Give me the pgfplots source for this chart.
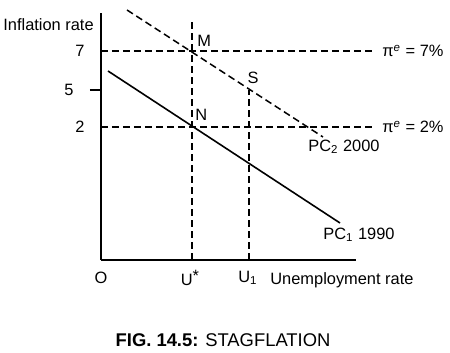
\documentclass[border=0pt]{standalone}
\usepackage{pgfplots}
\pgfplotsset{compat=1.18}
\usepackage{fontspec}
\setmainfont{Liberation Sans}
\begin{document}
\fontsize{8.2}{10}\selectfont
\begin{tikzpicture}
\begin{axis}[
  scale only axis, width=127.5pt, height=123.5pt,
  xmin=0, xmax=255, ymin=0, ymax=247,
  axis lines=left, axis line style={-, line width=0.9pt},
  clip=false,
  /pgf/number format/assume math mode=true,
  ytick={133,209}, yticklabels={2,7},
  extra y ticks={170}, extra y tick labels={5},
  extra y tick style={major tick length=5.5pt, tick align=outside, tick style={line width=0.9pt, black}},
  major tick length=0pt,
  yticklabel style={anchor=center, xshift=-10.5pt},
  xtick={0,89,147}, xticklabels={O, U\raisebox{0.45ex}{*}, U\textsubscript{1}},
  xticklabel style={anchor=center, yshift=-9pt},
  xlabel={Unemployment rate}, xlabel style={at={(axis cs:169,-20)}, anchor=west, inner sep=0pt},
  ylabel={Inflation rate}, ylabel style={at={(axis cs:-98,235)}, anchor=west, rotate=-90, inner sep=0pt},
  dashpat/.style={line width=0.75pt, dash pattern=on 3.5pt off 2pt},
]
\addplot[black, line width=0.8pt] coordinates {(7,189) (239,37)};
\addplot[black, dashpat] coordinates {(26,250) (222,123)};
\addplot[black, dashpat] coordinates {(0,209) (272,209)};
\addplot[black, dashpat] coordinates {(0,133) (272,133)};
\addplot[black, dashpat] coordinates {(91,0) (91,238)};
\addplot[black, dashpat] coordinates {(148,0) (148,170)};
\node[anchor=west, inner sep=0pt] at (axis cs:96,219) {M};
\node[anchor=west, inner sep=0pt] at (axis cs:94,145) {N};
\node[inner sep=0pt] at (axis cs:152,182) {S};
\node[anchor=west, inner sep=0pt] at (axis cs:281,209) {π\textsuperscript{\itshape e} = 7\%};
\node[anchor=west, inner sep=0pt] at (axis cs:281,133) {π\textsuperscript{\itshape e} = 2\%};
\node[anchor=west, inner sep=0pt] at (axis cs:207,113) {PC\textsubscript{2} 2000};
\node[anchor=west, inner sep=0pt] at (axis cs:222,25) {PC\textsubscript{1} 1990};
\node[inner sep=0pt, font=\fontsize{9.2}{11}\selectfont] at (axis cs:122,-80) {\textbf{FIG. 14.5:} STAGFLATION};
\coordinate (bl) at (axis cs:-101,-93);
\coordinate (tr) at (axis cs:349,260);
\end{axis}
\pgfresetboundingbox
\useasboundingbox (bl) rectangle (tr);
\end{tikzpicture}
\end{document}
